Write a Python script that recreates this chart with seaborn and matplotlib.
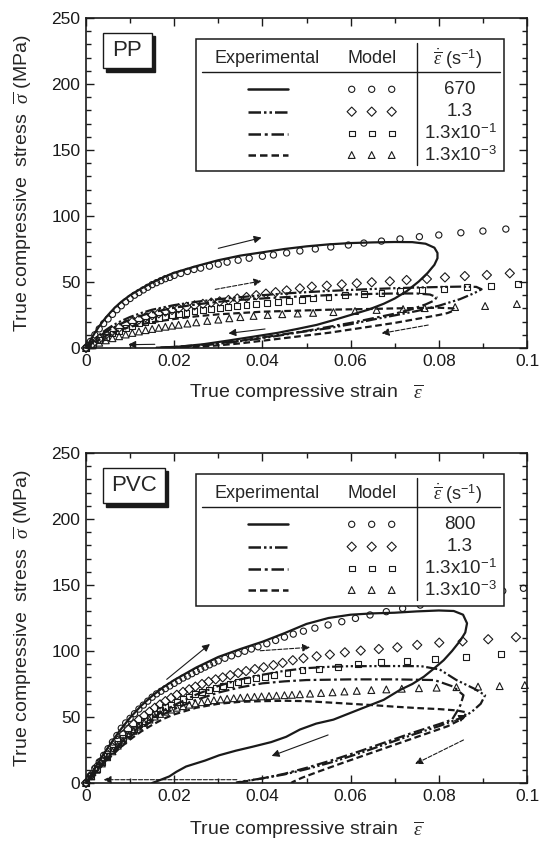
import numpy as np
import pandas as pd
import matplotlib
matplotlib.use("Agg")
import matplotlib.pyplot as plt
from matplotlib.patches import Rectangle
import seaborn as sns

# ---------------------------------------------------------------- data: PP
pp_670_model_x = [0, 0.001, 0.002, 0.003, 0.004, 0.005, 0.006, 0.007, 0.008, 0.009, 0.010, 0.011, 0.012,
                  0.013, 0.014, 0.015, 0.016, 0.017, 0.018, 0.019, 0.020, 0.0215, 0.023, 0.0245, 0.026,
                  0.028, 0.030, 0.032, 0.0345, 0.037, 0.040, 0.0425, 0.0455, 0.0485, 0.052, 0.0555,
                  0.0595, 0.063, 0.067, 0.0712, 0.0756, 0.080, 0.085, 0.090, 0.0952]
pp_670_model_y = [0, 5, 10, 14.5, 18.5, 22, 25.5, 29, 32, 35, 37.5, 40, 42, 44, 46, 48, 49.5, 51, 52.5,
                  53.5, 55, 56.5, 58, 59.5, 60.5, 62, 63.5, 65, 66.5, 68, 69.5, 70.5, 72, 73.5, 75, 76.5,
                  78, 79.5, 81, 82.6, 84.3, 85.6, 87.3, 88.6, 90.1]
pp_13_model_x = [0, 0.0015, 0.003, 0.0045, 0.006, 0.0075, 0.009, 0.0105, 0.012, 0.0135, 0.015, 0.0165,
                 0.018, 0.0195, 0.021, 0.0228, 0.0246, 0.0265, 0.0284, 0.0303, 0.0323, 0.0343, 0.0364,
                 0.0386, 0.0408, 0.043, 0.0455, 0.0485, 0.0512, 0.0546, 0.058, 0.0614, 0.0648, 0.0689,
                 0.0727, 0.0773, 0.0814, 0.0859, 0.0909, 0.0961]
pp_13_model_y = [0, 3.5, 7, 10, 12.8, 15.4, 17.8, 19.8, 21.6, 23.3, 24.9, 26.3, 27.6, 28.8, 30, 31.2,
                 32.3, 33.4, 34.4, 35.3, 36.4, 37.5, 38.6, 40, 41.2, 42.3, 43.6, 45.2, 46.5, 47.2, 48.2,
                 49, 49.8, 50.5, 51.5, 52.3, 53.5, 54.5, 55.3, 56.6]
pp_013_model_x = [0, 0.0015, 0.003, 0.0045, 0.006, 0.0075, 0.009, 0.0105, 0.012, 0.0135, 0.015, 0.0165,
                  0.018, 0.0195, 0.021, 0.0228, 0.0246, 0.0265, 0.0284, 0.0303, 0.0323, 0.0343, 0.0364,
                  0.0386, 0.041, 0.0435, 0.046, 0.049, 0.0515, 0.055, 0.0587, 0.063, 0.067, 0.0712,
                  0.0761, 0.0812, 0.0863, 0.0919, 0.098]
pp_013_model_y = [0, 3, 6, 8.6, 11, 13.2, 15.2, 17, 18.6, 20, 21.4, 22.6, 23.8, 24.8, 25.8, 26.8, 27.8,
                  28.7, 29.5, 30.3, 31.1, 31.9, 32.7, 33.5, 34.3, 35, 35.8, 36.7, 37.5, 38.8, 40.1, 41.2,
                  42, 43.2, 44.2, 44.9, 45.9, 47.2, 48.5]
pp_0013_model_x = [0, 0.0015, 0.003, 0.0045, 0.006, 0.0075, 0.009, 0.0105, 0.012, 0.0135, 0.015, 0.0165,
                   0.018, 0.0195, 0.021, 0.023, 0.025, 0.0275, 0.030, 0.0325, 0.035, 0.038, 0.0412,
                   0.0445, 0.048, 0.0515, 0.0561, 0.061, 0.0659, 0.0719, 0.0768, 0.0837, 0.0905, 0.0977]
pp_0013_model_y = [0, 2, 4, 5.8, 7.4, 8.9, 10.2, 11.4, 12.5, 13.5, 14.4, 15.3, 16.1, 16.9, 17.6, 18.5,
                   19.4, 20.5, 21.5, 22.5, 23.4, 24.3, 25, 25.6, 26.1, 26.6, 27.2, 28, 28.8, 29.5, 30.2,
                   31, 31.8, 33.3]

pp_670_exp_x = [0, 0.001, 0.002, 0.003, 0.004, 0.005, 0.0065, 0.008, 0.01, 0.0125, 0.015, 0.0175, 0.02,
                0.0225, 0.025, 0.03, 0.035, 0.04, 0.045, 0.05, 0.055, 0.06, 0.065, 0.07, 0.074, 0.077,
                0.079, 0.0797, 0.0797, 0.079, 0.0775, 0.0755, 0.0727, 0.07, 0.0675, 0.064, 0.06, 0.056,
                0.0523, 0.048, 0.0435, 0.0378, 0.032, 0.0265, 0.021, 0.016]
pp_670_exp_y = [0, 6, 11.5, 16.5, 21, 25, 30.5, 35, 40, 45, 49.5, 53.5, 57, 59.5, 62, 66.5, 70, 72.5,
                75, 77, 78.5, 79.5, 80, 80.3, 80.2, 79, 76, 72, 68, 63, 57, 50.5, 43, 37.5, 33.5, 29,
                25, 21, 17.5, 14.5, 11.5, 8.5, 5.5, 2.8, 1, 0.2]
pp_13_exp_x = [0, 0.002, 0.004, 0.006, 0.008, 0.01, 0.0125, 0.015, 0.02, 0.025, 0.03, 0.035, 0.04,
               0.045, 0.05, 0.055, 0.06, 0.065, 0.07, 0.075, 0.08, 0.085, 0.0885, 0.0897, 0.088,
               0.0848, 0.08, 0.075, 0.0712, 0.065, 0.06, 0.055, 0.0485, 0.043, 0.038, 0.033, 0.028,
               0.023, 0.018]
pp_13_exp_y = [0, 7, 12.5, 17, 20.5, 23.5, 26.5, 29, 32.5, 35, 37, 38.5, 40, 41.3, 42.3, 43.2, 44,
               44.7, 45.3, 45.8, 46.2, 46.5, 46.3, 44.5, 41.5, 37, 32, 28, 25.5, 21.5, 18, 15, 12,
               9, 6.5, 4.3, 2.5, 1, 0.2]
pp_013_exp_x = [0, 0.002, 0.004, 0.006, 0.008, 0.01, 0.0125, 0.015, 0.02, 0.025, 0.03, 0.035, 0.04,
                0.045, 0.05, 0.055, 0.06, 0.065, 0.07, 0.075, 0.078, 0.0795, 0.079, 0.077, 0.074,
                0.07, 0.065, 0.06, 0.055, 0.05, 0.045, 0.04, 0.035, 0.03, 0.025, 0.02, 0.016]
pp_013_exp_y = [0, 6, 11, 15, 18.5, 21.5, 24.5, 27, 30.5, 33, 35, 36.5, 37.5, 38.5, 39.3, 40, 40.5,
                41, 41.3, 41.3, 40.5, 38.5, 36, 33, 29.5, 26, 22.5, 19, 16, 13, 10.5, 8, 5.5, 3.5,
                2, 0.8, 0.2]
pp_0013_exp_x = [0, 0.002, 0.004, 0.006, 0.008, 0.01, 0.0125, 0.015, 0.02, 0.025, 0.03, 0.035, 0.04,
                 0.045, 0.05, 0.055, 0.06, 0.065, 0.07, 0.075, 0.08, 0.0833, 0.0835, 0.082, 0.08,
                 0.075, 0.07, 0.065, 0.06, 0.055, 0.05, 0.045, 0.04, 0.035, 0.03, 0.025, 0.02]
pp_0013_exp_y = [0, 4.5, 8.5, 11.5, 14, 16, 18, 19.5, 22, 24, 25.5, 26.5, 27.5, 28, 28.5, 29, 29.3,
                 29.6, 30, 30.3, 30.5, 30, 28.5, 26.5, 25, 22, 19, 16.5, 14, 11.5, 9.5, 7.5, 5.5,
                 3.5, 2, 0.8, 0.2]

# arrows (start x, start y, end x, end y, style)
pp_arrows = [(0.030, 75.5, 0.0398, 83.6, "solid"),
             (0.0293, 44.4, 0.0398, 50.8, "dashed"),
             (0.0406, 14.4, 0.0323, 11.1, "solid"),
             (0.0776, 17.4, 0.0670, 11.1, "dashed"),
             (0.0156, 2.8, 0.0096, 2.5, "solid")]

# ---------------------------------------------------------------- data: PVC
pvc_800_model_x = [0, 0.001, 0.002, 0.003, 0.004, 0.005, 0.006, 0.007, 0.008, 0.009, 0.010, 0.011,
                   0.012, 0.013, 0.014, 0.015, 0.016, 0.017, 0.018, 0.019, 0.020, 0.021, 0.022, 0.023,
                   0.024, 0.025, 0.026, 0.027, 0.028, 0.029, 0.030, 0.0315, 0.033, 0.0345, 0.036,
                   0.0375, 0.039, 0.041, 0.043, 0.045, 0.047, 0.0493, 0.0519, 0.0549, 0.058, 0.0611,
                   0.0644, 0.0681, 0.0718, 0.0758, 0.080, 0.0845, 0.0895, 0.0945, 0.0992]
pvc_800_model_y = [0, 5.5, 11, 16, 21, 26, 31, 36, 41.5, 45.5, 49, 52.5, 56, 59, 62, 65, 67.5, 69.5,
                   71.5, 73.5, 75.5, 77.5, 79.5, 81, 82.8, 84.5, 86.2, 87.8, 89.5, 91, 92.5, 94.5,
                   96.3, 98, 99.8, 101.5, 103.2, 105.5, 108, 110.5, 112.8, 115, 117.3, 119.7, 122.2,
                   124.7, 127.3, 129.8, 132.3, 134.8, 137.5, 140, 143, 145.5, 147.5]
pvc_13_model_x = [0, 0.0012, 0.0024, 0.0036, 0.0048, 0.006, 0.0072, 0.0084, 0.0096, 0.0108, 0.012,
                  0.0132, 0.0144, 0.0156, 0.0168, 0.018, 0.0193, 0.0206, 0.022, 0.0234, 0.0248,
                  0.0263, 0.0278, 0.0294, 0.031, 0.0327, 0.0345, 0.0363, 0.0383, 0.0403, 0.0425,
                  0.0446, 0.0469, 0.0493, 0.0523, 0.0553, 0.0587, 0.0623, 0.0664, 0.0706, 0.0751,
                  0.0801, 0.0854, 0.0912, 0.0975]
pvc_13_model_y = [0, 6, 12, 17, 22, 27, 32, 36.5, 40.5, 44.5, 48, 51, 54, 57, 59.5, 62, 64.5, 66.8,
                  69, 71, 73, 75, 76.8, 78.5, 80, 81.7, 83.3, 84.8, 86.3, 87.7, 89.3, 91, 93, 94.5,
                  96, 97.3, 99, 100.3, 101.5, 102.8, 104.6, 106.3, 107.3, 108.9, 110.5]
pvc_013_model_x = [0, 0.0012, 0.0024, 0.0036, 0.0048, 0.006, 0.0072, 0.0084, 0.0096, 0.0108, 0.012,
                   0.0132, 0.0144, 0.0156, 0.0168, 0.018, 0.0193, 0.0206, 0.022, 0.0234, 0.0248,
                   0.0263, 0.0278, 0.0294, 0.031, 0.0327, 0.0345, 0.0365, 0.0385, 0.0405, 0.0427,
                   0.0457, 0.0491, 0.0529, 0.0571, 0.0617, 0.0668, 0.0727, 0.0791, 0.0862, 0.0941]
pvc_013_model_y = [0, 5.3, 10.6, 15.5, 20.3, 25, 29.5, 33.8, 37.5, 41, 44.3, 47.3, 50, 52.5, 55,
                   57.3, 59.5, 61.5, 63.5, 65.5, 67.3, 69, 70.5, 72, 73.5, 75, 76.5, 78, 79.3, 80.5,
                   81.8, 83.6, 85.3, 86.6, 88.1, 89.9, 91.4, 92.7, 94, 95.7, 97.5]
pvc_0013_model_x = [0, 0.0012, 0.0024, 0.0036, 0.0048, 0.006, 0.0072, 0.0084, 0.0096, 0.0108, 0.012,
                    0.0132, 0.0144, 0.0156, 0.0168, 0.018, 0.0193, 0.0206, 0.022, 0.0234, 0.0248,
                    0.0262, 0.0276, 0.029, 0.0305, 0.032, 0.0335, 0.035, 0.0366, 0.0382, 0.0398,
                    0.0415, 0.0432, 0.045, 0.0467, 0.0485, 0.0508, 0.0533, 0.0559, 0.0586, 0.0614,
                    0.0647, 0.0681, 0.0716, 0.0755, 0.0795, 0.084, 0.0889, 0.0938, 0.0995]
pvc_0013_model_y = [0, 5, 10, 14.8, 19.5, 24, 28.3, 32.3, 36, 39.5, 42.7, 45.5, 48, 50.3, 52.3, 54,
                    55.6, 57, 58.2, 59.3, 60.3, 61.2, 62, 62.7, 63.3, 63.8, 64.2, 64.6, 65, 65.3, 65.6,
                    65.9, 66.2, 66.5, 66.8, 67.2, 67.7, 68.2, 68.7, 69.3, 69.8, 70.4, 70.9, 71.4,
                    71.8, 72.2, 72.6, 73, 73.4, 74.2]

pvc_800_exp_x = [0, 0.0025, 0.005, 0.0075, 0.01, 0.0125, 0.015, 0.0175, 0.02, 0.025, 0.03, 0.035,
                 0.04, 0.045, 0.05, 0.055, 0.06, 0.065, 0.07, 0.075, 0.08, 0.0834, 0.0855, 0.0864,
                 0.086, 0.0849, 0.083, 0.0811, 0.079, 0.0766, 0.074, 0.0712, 0.0675, 0.0614, 0.0561,
                 0.0522, 0.0485, 0.0454, 0.042, 0.0378, 0.034, 0.0302, 0.027, 0.0227, 0.0205,
                 0.0189, 0.017, 0.015]
pvc_800_exp_y = [0, 14, 27, 39, 49.5, 58.5, 66, 72.5, 78, 87.5, 95.5, 101.5, 107, 113.5, 120.5, 125,
                 127.5, 128.5, 129, 130, 130.7, 130.3, 127.5, 121, 114, 108, 100, 93, 87, 80.5, 75,
                 70.5, 63, 55, 48, 45, 40.5, 35, 31, 27.5, 24.5, 21, 17, 12.5, 8.5, 5, 2.5, 0]
pvc_13_exp_x = [0, 0.0025, 0.005, 0.0075, 0.01, 0.0125, 0.015, 0.0175, 0.02, 0.025, 0.03, 0.035,
                0.04, 0.045, 0.05, 0.055, 0.06, 0.07, 0.076, 0.0802, 0.084, 0.088, 0.0905, 0.0895,
                0.0875, 0.0856, 0.08, 0.074, 0.068, 0.062, 0.056, 0.05, 0.045, 0.04, 0.036, 0.034]
pvc_13_exp_y = [0, 10, 20, 29, 37, 43.5, 49, 54.5, 59, 67, 73.5, 78.5, 82, 85, 87, 88, 88.5, 88.6,
                88.5, 86, 78, 71.5, 66.5, 60, 54, 50, 43, 36.5, 29.5, 22.5, 16, 10.5, 6.5, 3.5, 1.5,
                0.3]
pvc_013_exp_x = [0, 0.0025, 0.005, 0.0075, 0.01, 0.0125, 0.015, 0.0175, 0.02, 0.025, 0.03, 0.035,
                 0.04, 0.045, 0.05, 0.06, 0.07, 0.079, 0.0833, 0.0856, 0.0849, 0.0841, 0.083, 0.08,
                 0.074, 0.068, 0.062, 0.056, 0.05, 0.045, 0.04, 0.036, 0.034]
pvc_013_exp_y = [0, 9.5, 19, 27.5, 35, 41.5, 47, 52, 56, 63, 68.5, 72.5, 75.5, 77, 78, 78.5, 78.5,
                 78, 73, 66.5, 59, 54, 48, 44.5, 38, 31, 24, 17.5, 11.5, 7, 3.5, 1.2, 0]
pvc_0013_exp_x = [0, 0.0025, 0.005, 0.0075, 0.01, 0.0125, 0.015, 0.0175, 0.02, 0.025, 0.03, 0.035,
                  0.04, 0.045, 0.05, 0.055, 0.06, 0.065, 0.07, 0.075, 0.08, 0.084, 0.0863, 0.0855,
                  0.082, 0.076, 0.07, 0.064, 0.058, 0.053, 0.049, 0.047, 0.0465]
pvc_0013_exp_y = [0, 9, 18, 26, 33, 39, 44, 48.5, 52, 57, 60, 61.5, 62, 62.3, 62, 61, 60, 59, 57.8,
                  56.8, 56, 55, 53.5, 49, 43, 36, 29, 22, 15, 9, 4, 1, 0]

pvc_arrows = [(0.0183, 78.5, 0.0281, 105.3, "solid"),
              (0.0395, 100.2, 0.0508, 102.8, "dashed"),
              (0.0549, 36.4, 0.0421, 20.5, "solid"),
              (0.0856, 32.6, 0.0746, 14.4, "dashed"),
              (0.0835, 47.0, 0.0862, 51.5, "solid"),
              (0.0342, 2.5, 0.0040, 2.5, "dashed")]

rate_labels_pp = ["670", "1.3", "1.3x10$^{-1}$", "1.3x10$^{-3}$"]
rate_labels_pvc = ["800", "1.3", "1.3x10$^{-1}$", "1.3x10$^{-3}$"]
x_ticks = [0, 0.02, 0.04, 0.06, 0.08, 0.1]
x_tick_labels = ["0", "0.02", "0.04", "0.06", "0.08", "0.1"]
y_ticks = [0, 50, 100, 150, 200, 250]

# ---------------------------------------------------------------- style
sns.set_theme(style="ticks")
plt.rcParams["font.family"] = ["Liberation Sans", "DejaVu Sans"]
plt.rcParams["mathtext.fontset"] = "custom"
plt.rcParams["mathtext.rm"] = "Liberation Sans"
plt.rcParams["mathtext.it"] = "Liberation Serif:italic"
plt.rcParams["mathtext.bf"] = "Liberation Sans:bold"

LINESTYLES = ["solid", (0, (5, 1.2, 1, 1.2, 1, 1.2)), (0, (5, 1.5, 1.2, 1.5)), (0, (3, 1.6))]
MARKERS = ["o", "D", "s", "^"]
MSIZES = [20, 22, 18, 24]
LW = 1.6

fig = plt.figure(figsize=(5.41, 8.42), dpi=100)
ax1 = fig.add_axes([86 / 541, 1 - 348 / 842, 441 / 541, 330 / 842])
ax2 = fig.add_axes([86 / 541, 1 - 783 / 842, 441 / 541, 330 / 842])


def draw_panel(ax, exps, models, arrows, name, rate_labels, namebox_w, xlab_y):
    for (ex, ey), ls in zip(exps, LINESTYLES):
        sns.lineplot(x=ex, y=ey, sort=False, estimator=None, color="k", lw=LW,
                     linestyle=ls, ax=ax, zorder=2)
    for (mx, my), mk, ms in zip(models, MARKERS, MSIZES):
        sns.scatterplot(x=mx, y=my, marker=mk, s=ms, color="k", facecolor="none",
                        edgecolor="k", linewidth=0.8, ax=ax, zorder=3, clip_on=False)
    for (x0, y0, x1, y1, st) in arrows:
        ax.annotate("", xy=(x1, y1), xytext=(x0, y0),
                    arrowprops=dict(arrowstyle="-|>", color="k", lw=0.8, linestyle=st,
                                    mutation_scale=11, shrinkA=0, shrinkB=0), zorder=4)

    ax.set_xlim(0, 0.1)
    ax.set_ylim(0, 250)
    ax.set_xticks(x_ticks)
    ax.set_xticklabels(x_tick_labels)
    ax.set_yticks(y_ticks)
    ax.set_xticks(np.arange(0, 0.1001, 0.01), minor=True)
    ax.set_yticks(np.arange(0, 251, 10), minor=True)
    ax.tick_params(which="both", direction="in", top=True, right=True, colors="k",
                   labelsize=12.5, width=1)
    ax.tick_params(which="major", length=6, pad=4)
    ax.tick_params(which="minor", length=3.5)
    for sp in ax.spines.values():
        sp.set_linewidth(1.2)
        sp.set_color("k")
    ax.set_xlabel(r"True compressive strain   $\overline{\varepsilon}$", fontsize=14)
    ax.set_ylabel(r"True compressive  stress  $\overline{\sigma}$ (MPa)", fontsize=14)
    ax.xaxis.set_label_coords(0.5, xlab_y)
    ax.yaxis.set_label_coords(-0.118, 0.5)

    T = ax.transAxes
    # name box with shadow
    bx0, by0, bw, bh = 0.038, 0.8476, namebox_w, 0.108
    ax.add_patch(Rectangle((bx0 + 0.008, by0 - 0.011), bw, bh, transform=T, fc="k", ec="k",
                           zorder=6, clip_on=False))
    ax.add_patch(Rectangle((bx0, by0), bw, bh, transform=T, fc="w", ec="k", lw=1,
                           zorder=7, clip_on=False))
    ax.text(bx0 + bw / 2, by0 + bh / 2, name, transform=T, ha="center", va="center",
            fontsize=16, zorder=8)

    # table legend
    ax.add_patch(Rectangle((0.2494, 0.5373), 0.6984, 0.3982, transform=T, fc="w", ec="k",
                           lw=1.1, zorder=6))
    ax.plot([0.2624, 0.9388], [0.8373, 0.8373], transform=T, color="k", lw=1, zorder=7)
    ax.plot([0.7512, 0.7512], [0.5545, 0.9233], transform=T, color="k", lw=1, zorder=7)
    hy = 0.8758
    ax.text(0.4098, hy, "Experimental", transform=T, ha="center", va="center",
            fontsize=13, zorder=8)
    ax.text(0.6478, hy, "Model", transform=T, ha="center", va="center", fontsize=13, zorder=8)
    ax.text(0.8435, hy, r"$\dot{\overline{\varepsilon}}$ (s$^{-1}$)", transform=T,
            ha="center", va="center", fontsize=13, zorder=8)
    rows = [0.7839, 0.7161, 0.65, 0.5848]
    for ry, ls, mk, ms, lab in zip(rows, LINESTYLES, MARKERS, MSIZES, rate_labels):
        ax.plot([0.368, 0.4587], [ry, ry], transform=T, color="k", lw=1.8, linestyle=ls,
                zorder=8)
        ax.scatter([0.6025, 0.6478, 0.6932], [ry] * 3, transform=T, marker=mk, s=ms,
                   facecolor="none", edgecolor="k", linewidth=0.8, zorder=8)
        ax.text(0.848, ry, lab, transform=T, ha="center", va="center", fontsize=13.5,
                zorder=8)


draw_panel(ax1,
           [(pp_670_exp_x, pp_670_exp_y), (pp_13_exp_x, pp_13_exp_y),
            (pp_013_exp_x, pp_013_exp_y), (pp_0013_exp_x, pp_0013_exp_y)],
           [(pp_670_model_x, pp_670_model_y), (pp_13_model_x, pp_13_model_y),
            (pp_013_model_x, pp_013_model_y), (pp_0013_model_x, pp_0013_model_y)],
           pp_arrows, "PP", rate_labels_pp, 0.111, -0.105)
draw_panel(ax2,
           [(pvc_800_exp_x, pvc_800_exp_y), (pvc_13_exp_x, pvc_13_exp_y),
            (pvc_013_exp_x, pvc_013_exp_y), (pvc_0013_exp_x, pvc_0013_exp_y)],
           [(pvc_800_model_x, pvc_800_model_y), (pvc_13_model_x, pvc_13_model_y),
            (pvc_013_model_x, pvc_013_model_y), (pvc_0013_model_x, pvc_0013_model_y)],
           pvc_arrows, "PVC", rate_labels_pvc, 0.141, -0.11)

fig.savefig("out.png", dpi=100)
